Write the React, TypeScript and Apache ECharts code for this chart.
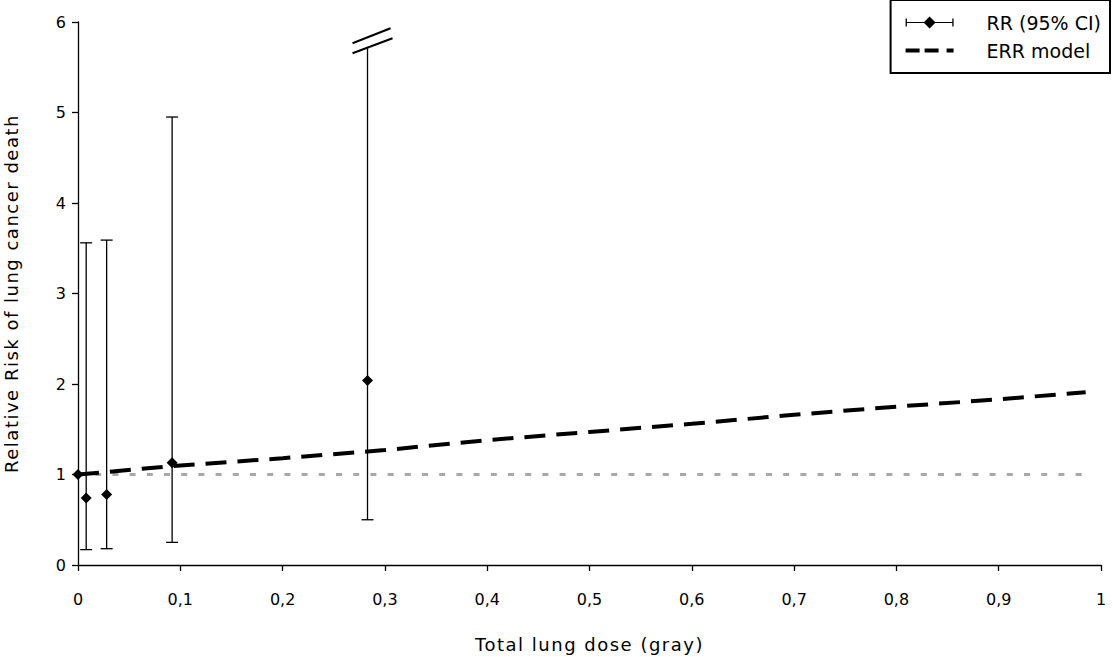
import React, { useEffect, useRef } from "react";
import * as echarts from "echarts";

// ---- Data ----
const rrDose = [0, 0.008, 0.028, 0.092, 0.283];
const rrValue = [1.0, 0.74, 0.78, 1.13, 2.04];
const ciLow: (number | null)[] = [null, 0.17, 0.18, 0.25, 0.5];
const ciHigh: (number | null)[] = [null, 3.56, 3.59, 4.95, 5.71];
const ciBroken = [false, false, false, false, true];

const errDose = [0, 0.1, 0.2, 0.3, 0.4, 0.5, 0.6, 0.7, 0.8, 0.9, 0.985];
const errValue = [1.0, 1.1, 1.18, 1.27, 1.38, 1.47, 1.56, 1.66, 1.75, 1.83, 1.91];

const baselineDose = [0, 0.985];
const baselineValue = [1, 1];

const xTicks = [0, 0.1, 0.2, 0.3, 0.4, 0.5, 0.6, 0.7, 0.8, 0.9, 1];

const FONT = "DejaVu Sans";

const errorBarIcon =
  "path://M0,5.4h48v1.2h-48z M0,2h1.3v8h-1.3z M46.7,2h1.3v8h-1.3z M24,0L30,6L24,12L18,6z";
const dashIcon =
  "path://M0,0L0.05,0L0,0.05z M0,12L0.05,12L0,11.95z M0,4h14v4h-14z M19,4h14v4h-14z M41,4h7v4h-7z";

export default function App() {
  const ref = useRef<HTMLDivElement>(null);
  useEffect(() => {
    if (!ref.current) return;
    const chart = echarts.init(ref.current, null, { renderer: "svg" });

    const errBarData = rrDose
      .map((d, i) =>
        ciLow[i] == null ? null : [d, ciLow[i], ciHigh[i], ciBroken[i] ? 1 : 0]
      )
      .filter((v) => v != null);

    chart.setOption({
      animation: false,
      backgroundColor: "#ffffff",
      textStyle: { fontFamily: FONT, color: "#000" },
      grid: {
        left: 78,
        right: 12,
        top: 22,
        bottom: 92,
        containLabel: false,
        outerBoundsMode: "none",
      },
      legend: {
        orient: "vertical",
        right: 3,
        top: 0,
        padding: [13, 9, 13, 15],
        borderColor: "#000",
        borderWidth: 2,
        backgroundColor: "#fff",
        itemWidth: 48,
        itemHeight: 12,
        itemGap: 9,
        selectedMode: false,
        textStyle: { fontFamily: FONT, fontSize: 19, color: "#000", padding: [0, 0, 0, 28] },
        data: [
          { name: "RR (95% CI)", icon: errorBarIcon, itemStyle: { color: "#000", opacity: 1 } },
          { name: "ERR model", icon: dashIcon, itemStyle: { color: "#000", opacity: 1 } },
        ],
      },
      xAxis: {
        type: "value",
        min: 0,
        max: 1,
        interval: 0.1,
        name: "Total lung dose (gray)",
        nameLocation: "middle",
        nameGap: 70,
        nameTextStyle: { fontFamily: FONT, fontSize: 18, color: "#000" },
        axisLine: { show: true, onZero: false, lineStyle: { color: "#000", width: 1.3 } },
        axisTick: { show: true, length: 6, lineStyle: { color: "#000", width: 1.3 } },
        axisLabel: {
          fontFamily: FONT,
          fontSize: 16,
          color: "#000",
          margin: 26,
          formatter: (v: number) => {
            const t = xTicks.find((x) => Math.abs(x - v) < 1e-9);
            const val = t == null ? v : t;
            return String(val).replace(".", ",");
          },
        },
        splitLine: { show: false },
      },
      yAxis: {
        type: "value",
        min: 0,
        max: 6,
        interval: 1,
        name: "Relative Risk of lung cancer death",
        nameLocation: "middle",
        nameGap: 58,
        nameTextStyle: { fontFamily: FONT, fontSize: 18, color: "#000" },
        axisLine: { show: true, lineStyle: { color: "#000", width: 1.3 } },
        axisTick: { show: true, length: 6, lineStyle: { color: "#000", width: 1.3 } },
        axisLabel: { fontFamily: FONT, fontSize: 16, color: "#000", margin: 12 },
        splitLine: { show: false },
      },
      series: [
        {
          name: "baseline",
          type: "line",
          data: baselineDose.map((d, i) => [d, baselineValue[i]]),
          symbol: "none",
          lineStyle: { color: "#a8a8a8", width: 3, type: [6, 11.2] },
          silent: true,
          z: 1,
        },
        {
          name: "ERR model",
          type: "line",
          data: errDose.map((d, i) => [d, errValue[i]]),
          symbol: "none",
          color: "#000",
          lineStyle: { color: "#000", width: 4, type: [21, 11] },
          z: 3,
        },
        {
          name: "RR error bars",
          type: "custom",
          data: errBarData,
          z: 2,
          renderItem: (params: any, api: any) => {
            const x = api.value(0);
            const lo = api.value(1);
            const hi = api.value(2);
            const broken = api.value(3) === 1;
            const pLo = api.coord([x, lo]);
            const pHi = api.coord([x, hi]);
            const cap = 6;
            const st = { stroke: "#000", lineWidth: 1.3 };
            const children: any[] = [
              { type: "line", shape: { x1: pLo[0], y1: pLo[1], x2: pHi[0], y2: pHi[1] }, style: st },
              { type: "line", shape: { x1: pLo[0] - cap, y1: pLo[1], x2: pLo[0] + cap, y2: pLo[1] }, style: st },
            ];
            if (broken) {
              const bs = { stroke: "#000", lineWidth: 2 };
              children.push(
                { type: "line", shape: { x1: pHi[0] - 15, y1: pHi[1] - 5, x2: pHi[0] + 23, y2: pHi[1] - 20 }, style: bs },
                { type: "line", shape: { x1: pHi[0] - 15, y1: pHi[1] + 5, x2: pHi[0] + 25, y2: pHi[1] - 10 }, style: bs }
              );
            } else {
              children.push({
                type: "line",
                shape: { x1: pHi[0] - cap, y1: pHi[1], x2: pHi[0] + cap, y2: pHi[1] },
                style: st,
              });
            }
            return { type: "group", children };
          },
        },
        {
          name: "RR (95% CI)",
          type: "scatter",
          data: rrDose.map((d, i) => [d, rrValue[i]]),
          symbol: "diamond",
          symbolSize: 11,
          itemStyle: { color: "#000", opacity: 1 },
          z: 4,
        },
      ],
    });
    return () => chart.dispose();
  }, []);

  return (
    <>
      <style>{`.rr-chart svg text[style*="18px"] { letter-spacing: 1.5px; }`}</style>
      <div
        ref={ref}
        className="rr-chart"
        style={{ position: "fixed", left: 0, top: 0, width: 1113, height: 657, background: "#fff" }}
      />
    </>
  );
}
